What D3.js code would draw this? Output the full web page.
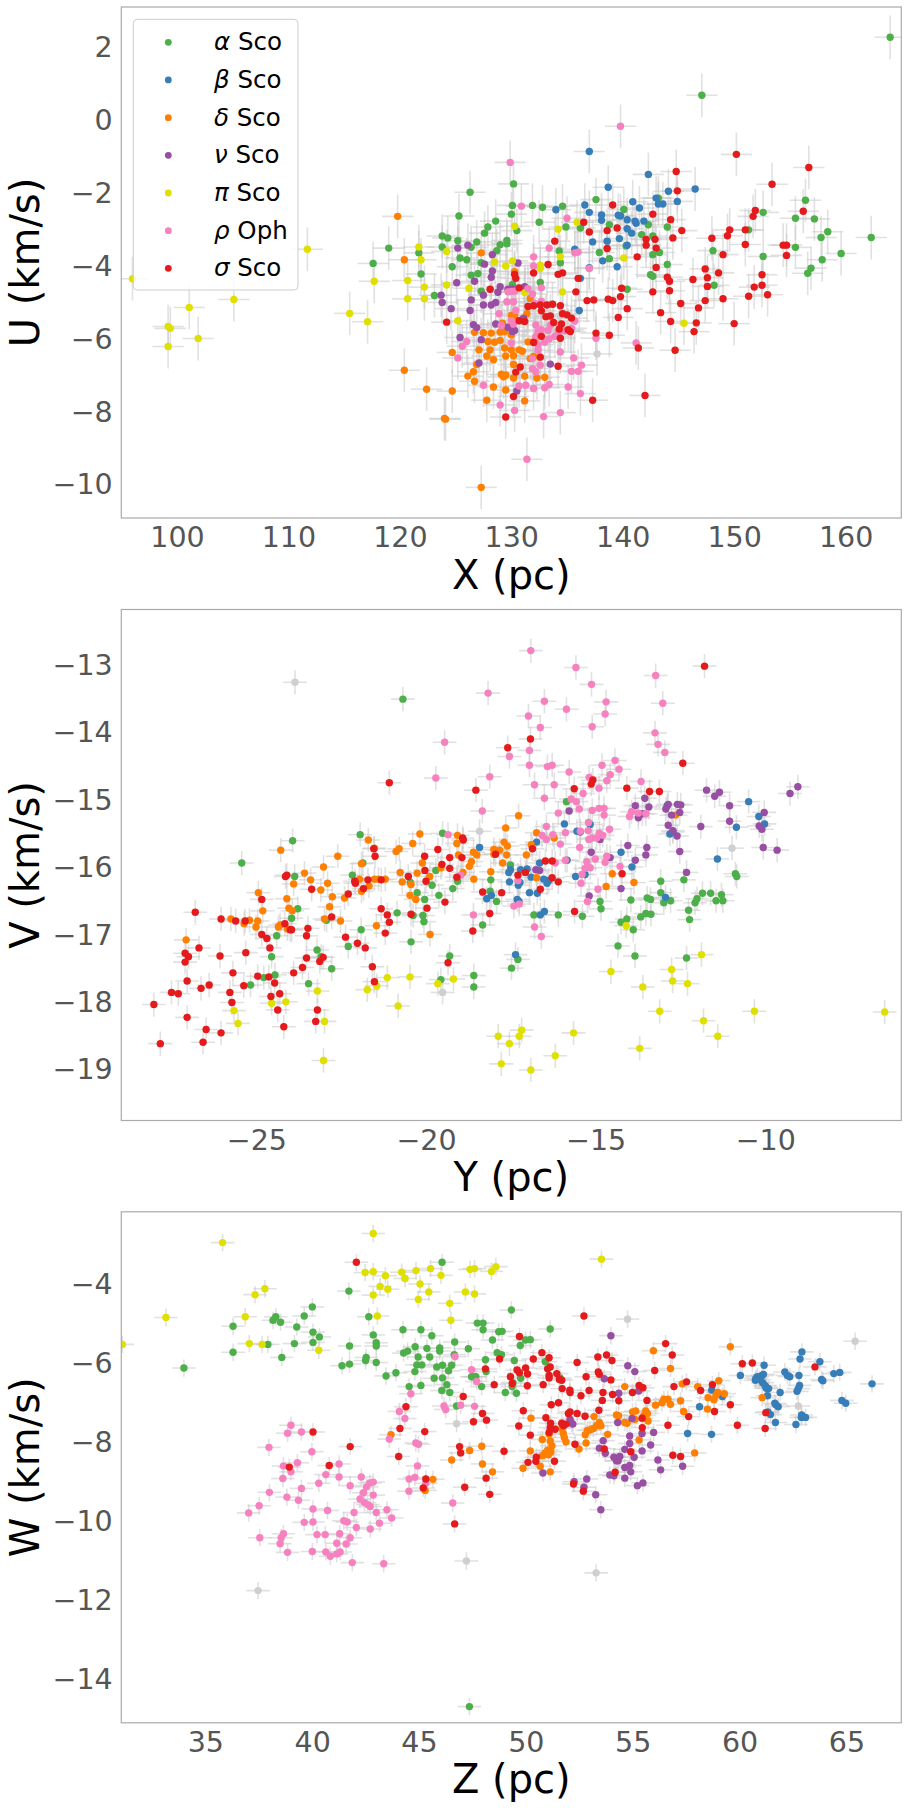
<!DOCTYPE html>
<html>
<head>
<meta charset="utf-8">
<script src="https://cdn.jsdelivr.net/npm/d3@7"></script>
<style>
  body { margin: 0; background: #fff; }
  svg { display: block; }
</style>
</head>
<body>
<svg id="chart" width="908" height="1808"></svg>
<script>
// Groups, in legend order
const groupGreek = ["α", "β", "δ", "ν", "π", "ρ", "σ"];
const groupName = ["Sco", "Sco", "Sco", "Sco", "Sco", "Oph", "Sco"];

// ---- Panel 1: X (pc) vs U (km/s) ----
const xuAlpha = [[164.0,2.24],[147.1,0.65],[162.3,-3.25],[159.6,-3.69],[158.4,-3.09],[157.8,-3.25],[157.2,-2.74],[156.4,-2.23],[155.5,-2.72],[155.5,-3.52],[157.9,-3.86],[156.9,-4.09],[156.6,-4.23],[152.6,-2.56],[151.3,-3.04],[152.6,-3.77],[148.1,-3.61],[148.2,-4.56],[119.0,-3.54],[117.6,-3.96],[121.7,-3.67],
  [126.3,-2.01],[130.2,-1.78],[130.1,-2.37],[130.0,-2.61],[131.9,-2.37],[132.8,-2.42],[134.6,-2.39],[132.5,-2.83],[134.9,-2.96],[137.6,-2.21],[140.1,-2.48],[138.8,-2.9],[136.2,-2.99],[125.3,-2.66],[128.6,-2.8],[127.9,-2.96],[127.6,-3.13],[130.5,-3.06],[123.8,-3.21],[124.3,-3.26],[125.2,-3.34],[123.8,-3.51],[126.9,-3.37],[126.4,-3.52],[129.0,-3.45],[129.6,-3.42],[129.6,-3.33],[128.7,-3.61],[125.4,-3.81],[126.0,-3.86],[124.7,-4.05],[127.3,-3.94],[126.4,-4.28],[127.0,-4.24],[121.9,-4.25],[123.1,-4.84],[127.3,-4.72],[130.1,-4.54],[132.6,-4.48],[134.3,-3.62],[134.4,-3.94],[137.9,-3.66],[138.8,-3.83],[140.3,-3.48],[141.7,-3.17],[142.3,-2.9],[142.7,-3.21],[142.7,-3.72],[143.3,-3.66],[143.2,-2.17],[144.0,-2.96],[144.0,-3.99],[142.5,-4.27],[142.7,-4.31],[140.4,-4.67]];
const xuBeta = [[137.0,-0.89],[142.3,-1.52],[146.5,-1.92],[138.7,-1.87],[134.0,-2.49],[136.6,-2.36],[137.0,-2.56],[138.1,-2.63],[138.1,-2.78],[139.6,-2.64],[139.8,-2.66],[140.4,-2.76],[140.9,-2.27],[141.5,-2.44],[141.1,-2.8],[141.2,-2.86],[141.9,-2.8],[143.0,-2.17],[143.2,-2.33],[143.6,-2.33],[144.1,-1.98],[144.9,-2.26],[140.4,-3.01],[140.8,-3.13],[137.3,-3.37],[138.6,-3.35],[139.7,-3.28],[140.4,-3.46],[138.2,-3.89],[139.5,-4.05],[137.0,-4.08],[135.7,-3.57],[136.2,-4.37],[136.1,-5.25]];
const xuDelta = [[119.8,-2.67],[120.4,-3.86],[120.4,-6.89],[122.4,-7.41],[124.7,-7.46],[124.0,-8.21],[124.1,-8.23],[127.3,-10.1],
  [127.3,-3.67],[130.3,-4.19],[131.7,-4.92],[130.0,-5.38],[130.3,-5.4],[131.4,-5.34],[126.7,-5.85],[127.5,-5.86],[128.2,-5.87],[129.0,-5.84],[129.4,-5.83],[130.0,-5.92],[127.9,-6.1],[128.5,-6.12],[129.0,-6.07],[127.1,-6.33],[128.1,-6.33],[129.4,-6.28],[130.0,-6.33],[130.7,-6.33],[124.7,-6.4],[127.8,-6.5],[128.4,-6.6],[129.5,-6.5],[130.2,-6.49],[131.0,-6.37],[131.5,-6.11],[132.1,-6.08],[131.7,-6.57],[132.0,-6.51],[130.2,-6.73],[126.9,-6.73],[126.6,-6.93],[126.1,-7.05],[126.7,-7.19],[129.1,-7.0],[129.3,-7.07],[129.5,-7.02],[130.2,-7.1],[131.2,-7.05],[132.3,-7.1],[133.0,-7.08],[128.4,-7.35],[129.5,-7.43],[127.8,-7.71],[131.2,-7.73],[129.2,-5.6]];
const xuNu = [[125.2,-3.54],[126.1,-3.46],[128.3,-3.72],[127.6,-3.98],[128.3,-4.17],[128.2,-4.34],[130.6,-3.95],[125.1,-4.49],[126.7,-4.45],[123.7,-4.83],[123.8,-5.03],[124.6,-5.2],[126.4,-4.96],[126.3,-5.25],[127.5,-4.83],[127.5,-5.1],[128.2,-5.1],[128.6,-5.03],[128.8,-4.75],[129.0,-4.6],[129.7,-4.67],[130.1,-4.66],[131.2,-4.6],[131.2,-4.69],[126.6,-5.64],[126.9,-5.72],[128.6,-5.62],[129.7,-5.71],[130.1,-5.83],[130.3,-5.8],[131.1,-5.46],[125.4,-5.99],[127.3,-6.05],[127.1,-6.69],[133.5,-6.72],[130.5,-7.46]];
const xuPi = [[96.0,-4.38],[99.2,-5.69],[99.4,-5.74],[99.2,-6.24],[101.1,-5.17],[101.9,-6.02],[105.1,-4.95],[111.7,-3.57],[115.5,-5.33],[117.1,-5.56],[117.7,-4.45],[145.5,-5.6],[121.7,-3.51],[121.9,-3.86],[120.7,-4.43],[120.7,-4.93],[122.2,-4.61],[122.2,-4.93],[124.2,-3.63],[124.2,-4.55],
  [125.2,-5.53],[126.2,-4.64],[128.5,-3.92],[129.5,-4.03],[130.1,-3.89],[130.3,-2.94],[132.6,-4.01],[132.6,-4.1],[131.2,-4.76],[134.2,-3.02],[134.4,-3.78],[134.6,-4.74],[135.9,-2.83],[140.1,-3.81]];
const xuRho = [[139.8,-0.2],[129.9,-1.19],[131.4,-9.33],
  [130.9,-2.39],[135.0,-2.72],[133.4,-3.54],[135.7,-3.67],[136.0,-3.65],[132.0,-3.78],[132.0,-4.03],[137.0,-4.1],[129.7,-4.74],[130.0,-4.73],[130.3,-4.72],[129.6,-5.01],[130.2,-5.01],[130.4,-5.25],[131.5,-4.65],[132.7,-4.63],[131.9,-4.8],[132.7,-5.0],[132.1,-5.05],[128.9,-5.34],[129.1,-5.66],[130.2,-5.62],[130.0,-5.53],[132.2,-5.65],[132.4,-5.83],[132.7,-5.78],[133.3,-5.8],[133.5,-5.66],[133.0,-6.12],[133.4,-6.03],[133.9,-5.96],[132.2,-5.96],[132.4,-6.19],[134.2,-5.87],[134.8,-5.81],[135.4,-5.74],[135.7,-5.54],[126.0,-6.1],[125.6,-6.23],[125.2,-6.55],[130.0,-6.14],[134.4,-6.39],[132.4,-6.34],[131.9,-6.57],[135.6,-6.55],[136.3,-6.75],[135.4,-6.92],[136.0,-6.92],[131.9,-6.85],[132.2,-6.93],[132.6,-6.75],[137.6,-6.01],[141.2,-6.14],[130.7,-7.32],[131.3,-7.3],[132.0,-7.39],[133.0,-7.37],[133.4,-7.28],[127.5,-7.3],[135.1,-7.35],[136.2,-7.53],[129.0,-7.84],[130.3,-7.99],[132.9,-8.16],[134.4,-8.05]];
const xuSigma = [[150.2,-0.97],[156.7,-1.33],[153.4,-1.79],[144.8,-1.44],[151.9,-2.51],[151.7,-2.67],[156.2,-2.53],[148.0,-3.27],[149.6,-3.04],[149.4,-3.2],[151.0,-3.04],[151.0,-3.44],[149.0,-3.72],[154.4,-3.46],[154.7,-3.46],[154.7,-3.74],[147.4,-4.11],[147.6,-4.35],[148.6,-4.22],[146.3,-4.4],[147.6,-4.59],[152.5,-4.27],[151.8,-4.61],[152.5,-4.56],[153.0,-4.82],[151.3,-4.86],[149.0,-4.93],[147.4,-4.98],[146.8,-5.18],[146.6,-5.59],[146.4,-5.83],[150.0,-5.61],[144.7,-6.34],[142.0,-7.58],
  [144.9,-1.97],[139.1,-2.36],[137.0,-3.1],[136.5,-2.83],[138.6,-3.06],[139.5,-2.99],[142.7,-2.61],[144.3,-2.76],[145.3,-3.06],[144.5,-3.26],[142.1,-3.3],[142.9,-3.3],[142.1,-3.46],[143.0,-3.54],[138.6,-3.55],[141.3,-3.78],[143.0,-4.07],[144.0,-4.34],[144.2,-4.45],[144.2,-4.71],[142.7,-4.74],[133.9,-3.35],[134.2,-4.26],[134.6,-4.22],[136.0,-4.37],[133.3,-3.99],[132.0,-4.22],[130.3,-4.26],[130.4,-4.37],[130.7,-4.63],[128.1,-4.67],[135.8,-4.74],[136.8,-4.98],[137.4,-4.96],[138.7,-4.94],[139.1,-4.98],[139.8,-4.87],[139.9,-4.64],[140.4,-5.2],[139.6,-5.44],[143.4,-5.31],[144.3,-5.55],[145.2,-5.06],[131.5,-5.14],[132.0,-5.12],[132.6,-5.1],[132.7,-5.26],[133.2,-5.1],[133.7,-5.08],[133.5,-5.4],[133.1,-5.42],[134.4,-5.12],[134.6,-5.34],[135.0,-5.37],[135.4,-5.46],[134.5,-5.62],[135.1,-5.78],[133.8,-5.58],[132.0,-6.13],[132.7,-5.96],[134.4,-6.01],[134.3,-5.76],[135.3,-5.83],[130.7,-5.53],[131.2,-5.55],[124.2,-5.57],[132.6,-6.53],[130.8,-6.8],[130.4,-6.94],[134.2,-6.78],[130.2,-7.61],[129.5,-8.17],[137.3,-7.71],[137.6,-5.87],[138.8,-5.93],[141.4,-6.28]];
const xuOther = [[137.7,-6.44]];

// ---- Panel 2: Y (pc) vs V (km/s) ----
const yvAlpha = [[-20.68,-13.52],[-23.93,-15.62],[-25.43,-15.95],[-21.94,-15.53],[-21.86,-15.95],[-22.17,-16.13],[-23.87,-16.15],[-23.78,-16.63],[-23.96,-16.77],[-24.4,-17.03],[-24.55,-17.34],[-24.78,-17.65],[-24.45,-17.61],[-25.17,-17.76],[-23.46,-17.74],[-23.21,-17.24],[-23.09,-17.34],[-22.78,-17.52],[-22.93,-16.8],[-21.91,-16.94],[-22.29,-17.19],[-20.85,-16.69],[-20.44,-17.12],[-20.38,-16.73],[-20.09,-16.73],[-20.06,-16.82],[-20.04,-16.49],[-20.26,-16.39],[-19.82,-16.28],[-19.71,-16.06],[-19.62,-16.43],[-19.21,-16.33],[-19.07,-16.22],[-19.51,-15.51],[-19.3,-17.33],[-19.56,-17.68],[-18.59,-17.62],[-18.59,-17.79],[-18.33,-16.87],[-18.09,-16.2],[-18.11,-16.37],[-17.92,-16.52],[-20.46,-16.24],
  [-15.86,-15.04],[-17.51,-15.98],[-16.82,-16.72],[-16.1,-16.72],[-15.39,-16.74],[-14.87,-16.52],[-14.84,-16.63],[-13.96,-16.5],[-14.25,-16.83],[-14.08,-16.78],[-13.89,-16.94],[-13.67,-16.75],[-13.52,-16.7],[-13.37,-16.71],[-13.48,-16.47],[-13.38,-16.49],[-13.08,-16.22],[-13.08,-16.39],[-12.99,-16.54],[-12.79,-16.51],[-12.4,-16.2],[-12.26,-16.65],[-12.23,-16.79],[-12.07,-16.54],[-12.01,-16.48],[-11.85,-16.4],[-11.61,-16.4],[-11.45,-16.51],[-11.25,-16.51],[-11.29,-16.42],[-10.88,-16.11],[-10.84,-16.15],[-14.34,-17.18],[-13.84,-17.33],[-12.32,-17.36],[-17.48,-17.51],[-17.29,-17.38]];
const yvBeta = [[-18.42,-15.72],[-18.21,-16.48],[-18.07,-16.43],[-15.92,-15.37],[-15.55,-15.48],[-15.45,-15.49],[-15.16,-15.38],[-16.74,-15.64],[-16.65,-15.95],[-17.51,-16.05],[-17.56,-16.09],[-17.21,-16.05],[-17.02,-16.04],[-17.54,-16.23],[-17.28,-16.28],[-17.23,-16.24],[-16.9,-16.16],[-16.53,-16.19],[-16.43,-16.25],[-16.38,-16.21],[-16.95,-16.39],[-16.72,-16.4],[-17.31,-16.49],[-17.26,-16.52],[-16.63,-16.72],[-16.51,-16.67],[-15.59,-16.15],[-15.31,-16.12],[-15.84,-15.91],[-14.25,-15.79],[-13.93,-16.01],[-10.49,-15.04],[-10.19,-15.26],[-10.02,-15.37],[-10.85,-15.42],[-11.41,-15.89],[-12.89,-15.1],[-12.81,-15.52],[-12.72,-15.49],[-12.94,-16.46],[-17.36,-17.31]];
const yvDelta = [[-24.28,-15.76],[-22.6,-15.85],[-21.7,-15.61],[-21.52,-15.73],[-20.88,-15.78],[-20.79,-15.74],[-20.39,-15.66],[-20.18,-15.52],[-19.07,-15.54],[-19.09,-15.66],[-19.04,-15.83],[-18.6,-15.79],[-18.5,-15.83],[-18.66,-15.93],[-18.72,-16.0],[-18.91,-16.09],[-18.0,-15.75],[-18.0,-15.82],[-18.09,-16.08],[-18.59,-16.19],[-19.56,-16.02],[-19.89,-16.15],[-20.11,-15.95],[-20.26,-16.1],[-20.76,-16.09],[-20.7,-16.23],[-20.44,-16.27],[-20.47,-16.43],[-20.3,-16.49],[-19.88,-17.01],[-21.9,-15.96],[-21.9,-16.37],[-21.96,-16.19],[-21.68,-16.29],[-21.52,-16.19],[-21.4,-16.19],[-21.2,-16.19],[-23.02,-16.01],[-23.58,-16.1],[-23.4,-16.2],[-23.9,-16.26],[-22.9,-16.25],[-23.1,-16.35],[-22.76,-16.45],[-22.4,-16.47],[-24.1,-16.48],[-24.04,-16.62],[-23.94,-16.66],[-22.84,-16.6],[-22.99,-16.78],[-22.52,-16.81],[-24.94,-16.39],[-24.81,-16.66],[-24.96,-16.81],[-25.01,-16.9],[-25.75,-16.78],[-25.2,-16.8],[-25.36,-16.85],[-24.35,-16.9],[-24.3,-16.87],[-24.08,-16.93],[-21.46,-16.88],[-27.07,-17.09],
  [-17.27,-15.25],[-17.65,-15.43],[-16.74,-15.5],[-16.22,-15.58],[-16.9,-15.68],[-17.04,-15.83],[-17.6,-15.7],[-17.7,-15.64],[-17.62,-15.83],[-17.83,-15.76],[-17.74,-15.95],[-16.74,-16.17],[-14.51,-16.11],[-14.69,-16.3],[-13.87,-16.24],[-12.64,-15.24]];
const yvNu = [[-11.73,-14.87],[-11.49,-14.96],[-11.35,-14.9],[-9.27,-14.92],[-9.04,-14.82],[-11.05,-15.1],[-10.03,-15.2],[-11.05,-15.33],[-11.9,-15.41],[-10.18,-15.4],[-10.1,-15.45],[-10.06,-15.72],[-9.65,-15.76],[-12.52,-15.78],[-12.59,-15.08],[-12.49,-15.09],[-12.52,-15.2],[-12.76,-15.24],[-12.86,-15.08],[-12.93,-15.15],[-12.86,-15.39],[-12.72,-15.47],[-12.6,-15.55],[-13.55,-14.99],[-13.43,-15.12],[-13.83,-15.1],[-13.74,-15.28],[-13.62,-15.22],[-13.49,-15.72],[-13.52,-15.83],[-14.05,-15.69],[-13.83,-15.91],[-12.32,-16.09],[-15.78,-15.18],[-15.13,-15.79],[-14.57,-15.87],[-14.25,-16.33],[-15.19,-16.44],[-16.76,-16.05],[-16.65,-16.06],[-14.87,-15.6]];
const yvPi = [[-17.87,-18.52],[-17.78,-18.93],[-17.54,-18.63],[-17.25,-18.52],[-17.18,-18.43],[-16.91,-19.02],[-16.19,-18.81],[-15.65,-18.47],[-13.7,-18.7],[-11.4,-18.52],[-6.48,-18.16],
  [-25.66,-18.14],[-25.54,-18.33],[-24.55,-18.03],[-24.13,-18.01],[-23.2,-17.85],[-22.99,-18.3],[-23.02,-18.88],[-21.73,-17.83],[-21.45,-17.77],[-21.14,-17.65],[-20.47,-17.64],[-20.82,-18.07],[-19.65,-17.74],[-19.19,-17.67],
  [-14.1,-16.88],[-14.55,-17.56],[-13.61,-17.79],[-12.76,-17.53],[-12.73,-17.7],[-12.29,-17.74],[-11.88,-17.31],[-13.11,-18.15],[-11.82,-18.29],[-10.32,-18.15]];
const yvRho = [[-16.91,-12.8],[-18.17,-13.43],[-19.45,-14.16],[-15.58,-13.05],[-15.12,-13.3],[-13.23,-13.17],[-19.71,-14.69],[-18.12,-14.67],[-18.34,-15.18],[-19.35,-15.53],[-18.97,-16.13],[-18.6,-16.72],
  [-16.51,-13.55],[-14.69,-13.56],[-13.02,-13.58],[-15.86,-13.67],[-14.72,-13.74],[-16.98,-13.77],[-15.1,-13.93],[-16.63,-13.94],[-13.25,-14.02],[-13.16,-14.19],[-12.96,-14.31],[-16.95,-14.28],[-17.54,-14.37],[-16.95,-14.5],[-16.42,-14.52],[-16.28,-14.5],[-15.78,-14.6],[-14.81,-14.5],[-14.43,-14.43],[-14.31,-14.56],[-14.57,-14.64],[-14.67,-14.73],[-15.19,-14.68],[-14.9,-14.84],[-13.66,-14.74],[-16.8,-14.79],[-16.22,-14.79],[-16.51,-14.99],[-15.37,-14.92],[-15.72,-15.0],[-15.57,-15.04],[-16.1,-15.21],[-15.48,-15.15],[-15.1,-15.17],[-14.9,-15.14],[-14.75,-15.14],[-14.75,-15.24],[-15.21,-15.35],[-15.22,-15.47],[-15.45,-15.48],[-14.59,-15.45],[-15.2,-15.6],[-15.1,-15.58],[-14.97,-15.58],[-14.89,-15.51],[-14.79,-15.54],[-15.47,-15.72],[-15.89,-15.5],[-16.04,-15.67],[-16.45,-15.41],[-16.58,-15.54],[-16.45,-15.6],[-16.26,-15.53],[-15.89,-15.91],[-16.19,-15.95],[-15.01,-15.89],[-14.72,-15.94],[-14.67,-15.85],[-15.26,-15.93],[-15.16,-16.02],[-15.31,-16.03],[-15.4,-16.12],[-15.43,-16.25],[-14.28,-16.0],[-14.93,-16.34],[-15.24,-16.52],[-16.8,-16.9],[-16.6,-17.04],[-17.41,-16.59],[-17.25,-16.56],[-17.29,-16.21],[-14.0,-15.26],[-13.94,-15.19],[-13.74,-15.21],[-13.52,-15.22]];
const yvSigma = [[-28.02,-18.05],[-27.83,-18.63],[-11.79,-13.03],
  [-21.08,-14.76],[-18.53,-14.87],[-18.92,-15.58],[-18.9,-15.61],[-19.65,-15.75],[-21.54,-15.74],[-21.5,-15.85],[-20.04,-15.85],[-19.3,-15.87],[-18.94,-15.87],[-19.53,-15.97],[-20.03,-16.06],[-19.3,-16.03],[-19.09,-16.16],[-20.52,-16.15],[-20.0,-16.22],[-24.14,-16.15],[-24.1,-16.13],[-22.08,-16.25],[-22.1,-16.22],[-21.71,-16.2],[-21.84,-16.33],[-21.32,-16.2],[-22.29,-16.41],[-23.37,-16.34],[-24.84,-16.49],[-26.8,-16.68],[-26.04,-16.78],[-25.61,-16.81],[-25.33,-16.81],[-24.16,-16.85],[-24.0,-16.94],[-23.96,-16.94],[-23.48,-16.92],[-23.52,-17.03],[-24.84,-17.01],[-24.69,-17.07],[-24.6,-17.21],[-26.69,-17.21],[-27.1,-17.29],[-27.0,-17.34],[-27.1,-17.42],[-26.07,-17.33],[-25.31,-17.28],[-22.78,-16.75],[-22.37,-17.05],[-22.02,-17.14],[-21.79,-17.21],[-21.32,-16.63],[-21.14,-16.72],[-21.08,-16.83],[-21.2,-16.99],[-20.44,-16.71],[-19.97,-16.62],[-19.44,-16.53],[-18.33,-16.38],[-18.12,-16.7],[-18.62,-16.96],[-23.52,-17.36],[-23.03,-17.35],[-23.13,-17.41],[-23.64,-17.5],[-23.9,-17.58],[-25.69,-17.58],[-24.96,-17.63],[-24.63,-17.64],[-24.46,-17.73],[-25.37,-17.77],[-27.04,-17.7],[-26.63,-17.81],[-26.39,-17.76],[-27.5,-17.87],[-27.3,-17.89],[-25.78,-17.87],[-25.72,-18.02],[-24.57,-17.93],[-24.31,-17.89],[-24.37,-18.13],[-23.2,-18.13],[-23.25,-18.3],[-24.19,-18.38],[-27.04,-18.24],[-26.48,-18.42],[-26.04,-18.47],[-26.57,-18.61],[-21.58,-17.49],[-21.52,-17.71],[-19.35,-17.43],[-17.95,-15.82],
  [-16.92,-14.11],[-17.59,-14.24],[-12.43,-14.47],[-15.63,-14.85],[-15.13,-14.78],[-15.08,-14.72],[-14.08,-14.84],[-13.41,-14.89],[-13.12,-14.89],[-16.86,-15.74],[-17.07,-16.09],[-17.29,-16.13],[-16.48,-15.92],[-16.28,-15.92],[-16.28,-16.17],[-16.1,-16.23],[-16.63,-16.34],[-17.77,-16.39],[-15.62,-16.67],[-14.22,-16.11]];
const yvOther = [[-23.86,-13.27],[-18.42,-15.48],[-19.51,-17.87],[-10.98,-15.73]];

// ---- Panel 3: Z (pc) vs W (km/s) ----
const zwAlpha = [[34.0,-6.14],[36.3,-5.08],[36.3,-5.74],[37.93,-5.54],[38.17,-4.93],[38.3,-4.84],[38.52,-4.98],[38.58,-5.87],[39.17,-5.52],[39.28,-5.1],[39.63,-4.82],[40.01,-4.59],[40.04,-5.23],[40.34,-5.35],[40.04,-5.49],[41.72,-4.19],[41.75,-5.58],[41.4,-6.08],[41.75,-6.04],[42.53,-5.87],[42.5,-5.95],[42.65,-4.84],[42.86,-5.3],[43.0,-5.5],[43.0,-5.58],[43.0,-6.0],[46.08,-3.46],[47.36,-14.72],
  [49.32,-4.67],[51.14,-5.15],[47.73,-5.0],[48.0,-5.0],[48.0,-5.17],[44.25,-5.17],[45.09,-5.17],[45.6,-5.32],[46.67,-5.48],[48.44,-5.43],[48.73,-5.22],[48.89,-5.21],[49.98,-5.43],[50.21,-5.42],[49.74,-5.57],[44.82,-5.6],[45.37,-5.64],[45.97,-5.63],[45.97,-5.71],[46.65,-5.8],[47.31,-5.65],[44.28,-5.76],[44.47,-5.71],[44.96,-5.86],[45.5,-5.86],[44.9,-6.06],[45.13,-6.06],[44.81,-6.23],[45.83,-6.11],[46.1,-6.07],[46.53,-6.07],[46.38,-6.21],[46.1,-6.39],[45.71,-6.4],[46.3,-6.56],[46.07,-6.71],[46.44,-6.76],[43.92,-6.26],[43.46,-6.34],[44.54,-6.61],[45.09,-6.58],[48.11,-5.93],[48.66,-5.75],[48.86,-5.8],[49.46,-5.95],[50.91,-5.98],[47.46,-6.36],[47.56,-6.36],[47.66,-6.36],[48.14,-6.23],[47.93,-6.61],[49.04,-6.76],[49.56,-6.78],[49.36,-6.61],[49.4,-6.51],[49.76,-6.4],[46.76,-7.1],[51.6,-6.39]];
const zwBeta = [[62.92,-5.73],[62.83,-5.91],[63.76,-5.98],[61.15,-6.07],[60.04,-6.33],[60.77,-6.4],[60.84,-6.36],[61.05,-6.33],[61.12,-6.3],[60.74,-6.45],[60.92,-6.43],[61.08,-6.51],[61.19,-6.58],[61.26,-6.65],[61.36,-6.66],[61.23,-6.61],[62.12,-6.24],[62.24,-6.33],[62.35,-6.36],[62.78,-6.33],[62.81,-6.58],[62.75,-6.66],[62.69,-6.73],[63.84,-6.43],[63.9,-6.46],[64.41,-6.28],[64.69,-6.25],[66.2,-6.54],[61.9,-6.76],[61.31,-6.84],[61.65,-7.03],[61.81,-7.12],[61.7,-7.07],[64.79,-6.96],[64.97,-7.03],[61.33,-7.25],[61.45,-7.32],[62.91,-7.33],[62.89,-7.39],[63.09,-7.39],[62.64,-7.57],[61.68,-7.52],[59.2,-6.86],[58.7,-6.7],[58.13,-7.12],[57.57,-7.8],[58.69,-7.82]];
const zwDelta = [[55.97,-5.7],[56.77,-6.15],[54.63,-6.61],[56.46,-6.93],[56.65,-6.93],[56.77,-7.06],[56.07,-7.08],[56.37,-7.02],[55.61,-7.23],[55.69,-7.29],[55.14,-7.23],[54.99,-7.25],[55.11,-7.44],[55.53,-7.34],[55.72,-7.48],[55.3,-7.96],[54.74,-7.54],[54.62,-7.52],[54.24,-7.33],[54.34,-7.35],[53.19,-7.37],[53.44,-7.52],[53.51,-7.6],[53.31,-7.6],[53.16,-7.67],[53.0,-7.71],[52.88,-7.72],[52.78,-7.83],[53.83,-7.82],[52.82,-8.04],[52.49,-8.19],[51.68,-7.67],[51.75,-7.8],[51.8,-7.9],[51.88,-8.01],[51.09,-7.82],[51.14,-7.99],[51.22,-8.11],[51.02,-8.22],[50.91,-8.29],[50.78,-8.36],[51.06,-8.34],[51.17,-8.26],[50.24,-7.41],[50.77,-7.95],[50.21,-8.24],[49.87,-8.68],[50.67,-8.63],[51.14,-8.77],[47.94,-8.12],[47.37,-8.23],[47.97,-8.57],[48.44,-8.77],[46.53,-8.47],[45.65,-8.96],[43.69,-7.83],[45.29,-9.24],
  [59.57,-5.6],[57.32,-6.54],[58.04,-6.61],[59.03,-6.46],[58.53,-6.89],[58.8,-6.94],[58.9,-6.83],[58.98,-6.76],[59.29,-6.79],[58.5,-7.18],[57.24,-6.97],[57.38,-7.24],[61.06,-6.89],[57.9,-8.29]];
const zwNu = [[53.98,-5.32],[54.77,-6.08],[55.1,-6.23],[53.67,-6.41],[55.28,-6.72],[54.35,-6.78],[54.97,-7.42],[52.2,-7.56],[54.3,-7.52],[54.86,-7.86],[55.44,-7.8],[55.98,-7.77],[53.62,-7.98],[54.86,-8.05],[54.63,-8.2],[55.07,-8.4],[55.44,-8.24],[55.84,-8.09],[53.44,-8.17],[53.72,-8.3],[54.12,-8.4],[54.24,-8.49],[54.4,-8.38],[54.32,-8.49],[54.63,-8.66],[54.86,-8.61],[54.91,-8.77],[53.93,-8.85],[54.12,-8.87],[54.63,-8.93],[55.22,-9.12],[55.48,-9.05],[56.18,-8.47],[56.31,-8.72],[52.85,-8.95],[52.26,-9.02],[52.72,-9.16],[53.27,-9.35],[53.51,-9.73],[50.8,-8.8],[52.07,-7.44],[52.15,-7.54],[57.34,-8.63]];
const zwPi = [[31.12,-5.54],[33.16,-4.86],[35.81,-2.96],[36.87,-4.84],[37.06,-5.52],[37.33,-4.28],[37.79,-4.13],[37.66,-5.54],[40.31,-5.69],[42.86,-2.73],[42.48,-3.72],[42.86,-3.7],[42.86,-4.29],[43.05,-4.82],[43.18,-4.07],[53.54,-3.38],[43.43,-3.8],[43.54,-4.14],[44.19,-3.71],[44.35,-3.87],[44.86,-3.67],[45.05,-4.01],[45.54,-3.62],[45.46,-4.21],[46.03,-3.79],[46.44,-4.5],[46.49,-4.93],[47.17,-4.21],[47.39,-3.64],[47.6,-3.62],[47.6,-4.26],[48.39,-3.69],[48.6,-3.57],[44.97,-4.4]];
const zwRho = [[39.01,-7.59],[38.85,-7.79],[39.5,-7.76],[37.98,-8.15],[39.99,-8.26],[38.66,-8.62],[39.01,-8.77],[41.26,-8.57],[39.31,-8.54],[40.64,-8.84],[38.63,-8.94],[41.26,-8.9],[40.31,-9.06],[39.5,-9.19],[41.78,-9.12],[42.3,-8.9],[42.55,-9.15],[42.4,-9.3],[42.86,-9.36],[42.7,-9.05],[42.86,-9.03],[38.0,-9.29],[38.82,-9.41],[39.36,-9.49],[37.52,-9.63],[37.03,-9.81],[40.04,-9.71],[40.04,-10.04],[40.72,-9.75],[41.48,-10.01],[41.64,-10.04],[42.24,-9.46],[42.45,-9.55],[42.6,-9.6],[42.72,-9.65],[41.96,-9.8],[43.0,-9.8],[39.63,-10.05],[40.23,-10.36],[40.61,-10.36],[41.29,-10.34],[42.07,-10.18],[42.72,-10.22],[41.78,-10.44],[38.66,-10.34],[38.55,-10.44],[37.55,-10.44],[38.5,-10.59],[38.85,-10.81],[40.01,-10.79],[40.64,-10.8],[40.85,-10.91],[41.15,-10.85],[41.31,-10.8],[41.15,-10.58],[41.59,-10.6],[41.88,-11.07],
  [46.69,-5.85],[47.46,-6.18],[47.7,-6.48],[44.62,-6.79],[46.17,-7.1],[46.25,-7.19],[46.95,-7.08],[47.6,-7.11],[44.08,-7.24],[44.34,-7.42],[43.61,-7.94],[44.85,-8.04],[44.98,-8.07],[44.93,-8.62],[44.54,-8.95],[44.81,-8.91],[44.53,-9.26],[45.32,-9.06],[46.58,-9.56],[43.5,-9.73],[43.72,-9.94],[43.15,-10.07],[43.35,-11.1]];
const zwSigma = [[42.07,-3.46],[40.04,-7.76],[38.93,-8.65],[40.8,-8.61],[41.78,-8.13],
  [52.72,-4.82],[49.7,-5.34],[56.54,-5.52],[56.85,-5.81],[48.77,-5.91],[48.11,-6.16],[50.35,-5.91],[50.75,-5.75],[51.09,-5.88],[51.02,-6.16],[51.14,-6.11],[51.09,-6.33],[51.09,-6.39],[51.45,-6.28],[51.57,-6.43],[51.68,-6.45],[49.99,-6.14],[49.28,-6.36],[49.59,-6.19],[49.7,-6.26],[49.36,-6.53],[50.08,-6.29],[50.07,-6.59],[50.81,-6.56],[48.52,-6.56],[52.4,-6.0],[52.82,-6.36],[53.37,-5.86],[53.39,-6.24],[53.44,-6.3],[53.78,-5.81],[54.03,-5.95],[53.98,-6.44],[52.96,-6.71],[52.58,-6.84],[52.07,-6.76],[52.06,-6.7],[51.7,-6.66],[53.61,-6.76],[54.06,-6.81],[53.58,-6.96],[54.35,-6.97],[54.99,-6.76],[55.3,-6.58],[55.48,-6.64],[55.67,-6.96],[56.03,-6.2],[56.93,-6.61],[47.07,-6.86],[47.97,-7.29],[48.16,-7.46],[47.55,-7.5],[44.39,-7.12],[44.11,-7.67],[45.27,-7.75],[46.9,-8.13],[46.95,-8.29],[44.05,-8.38],[45.32,-8.95],[45.2,-9.18],[47.14,-9.16],[48.31,-9.34],[48.14,-8.93],[46.67,-10.09],[48.98,-8.25],[49.88,-7.22],[49.67,-7.61],[50.21,-7.84],[51.19,-7.07],[51.53,-7.02],[50.94,-7.4],[51.16,-7.54],[51.14,-7.65],[51.09,-7.77],[51.37,-7.69],[51.68,-7.54],[51.76,-7.6],[51.99,-7.29],[52.07,-7.25],[51.88,-7.56],[52.4,-7.29],[52.77,-7.36],[53.42,-7.21],[52.3,-8.07],[51.34,-8.5],[50.49,-8.4],[50.47,-8.5],[50.1,-8.53],[52.23,-9.08],[52.69,-9.26],[53.67,-8.19],[54.18,-8.78],[54.91,-8.26],[55.44,-7.41],[55.45,-7.65],[56.65,-7.59],[56.88,-8.35],
  [63.53,-6.11],[60.13,-6.03],[60.6,-6.01],[57.52,-6.49],[58.73,-6.56],[58.18,-6.71],[59.57,-7.07],[58.83,-7.24],[57.62,-7.37],[61.23,-7.27],[59.9,-7.59],[61.2,-7.67],[57.24,-8.38]];
const zwOther = [[37.47,-11.78],[53.29,-11.33],[47.22,-11.03],[54.76,-4.9],[46.76,-7.55],[65.41,-5.46],[62.75,-7.1]];

// Typical error bar half widths per panel: [x, y]
const errXU = [1.4, 0.6];
const errYV = [0.35, 0.18];
const errZW = [0.55, 0.22];

// Tick values
const ticksX = [100, 110, 120, 130, 140, 150, 160];
const ticksU = [-10, -8, -6, -4, -2, 0, 2];
const ticksY = [-25, -20, -15, -10];
const ticksV = [-19, -18, -17, -16, -15, -14, -13];
const ticksZ = [35, 40, 45, 50, 55, 60, 65];
const ticksW = [-14, -12, -10, -8, -6, -4];

const colors = ["#4daf4a", "#377eb8", "#ff7f00", "#984ea3", "#e0e000", "#f781bf", "#e41a1c"];
const otherColor = "#cfcfcf";

const panels = [
  { top: 7, xDom: [95, 165], yDom: [-10.94, 3.07], xTicks: ticksX, yTicks: ticksU,
    xLabel: "X (pc)", yLabel: "U (km/s)", err: errXU, other: xuOther,
    sets: [xuAlpha, xuBeta, xuDelta, xuNu, xuPi, xuRho, xuSigma], legend: true },
  { top: 609.5, xDom: [-28.98, -5.99], yDom: [-19.77, -12.19], xTicks: ticksY, yTicks: ticksV,
    xLabel: "Y (pc)", yLabel: "V (km/s)", err: errYV, other: yvOther,
    sets: [yvAlpha, yvBeta, yvDelta, yvNu, yvPi, yvRho, yvSigma] },
  { top: 1211.8, xDom: [31.07, 67.57], yDom: [-15.13, -2.18], xTicks: ticksZ, yTicks: ticksW,
    xLabel: "Z (pc)", yLabel: "W (km/s)", err: errZW, other: zwOther,
    sets: [zwAlpha, zwBeta, zwDelta, zwNu, zwPi, zwRho, zwSigma] }
];

const svg = d3.select("#chart");
svg.append("rect").attr("width", 908).attr("height", 1808).attr("fill", "#fff");

const left = 121.3, right = 901.3, ph = 511;
const font = "DejaVu Sans";

panels.forEach(p => {
  const x = d3.scaleLinear().domain(p.xDom).range([left, right]);
  const y = d3.scaleLinear().domain(p.yDom).range([p.top + ph, p.top]);
  const g = svg.append("g");

  // Clip so cut points at the frame edge look right
  const clipId = "clip" + Math.round(p.top);
  svg.append("clipPath").attr("id", clipId)
    .append("rect").attr("x", left).attr("y", p.top).attr("width", right - left).attr("height", ph);
  const plot = g.append("g").attr("clip-path", `url(#${clipId})`);

  // Combine sets: unassigned stars first, then groups in legend order
  const layers = [{ pts: p.other, color: otherColor }]
    .concat(p.sets.map((s, i) => ({ pts: s, color: colors[i] })));

  // Error bars under everything
  const eb = plot.append("g").attr("stroke", "#c8c8c8").attr("stroke-opacity", 0.55).attr("stroke-width", 1.6);
  layers.forEach(l => {
    l.pts.forEach(d => {
      eb.append("line").attr("x1", x(d[0] - p.err[0])).attr("x2", x(d[0] + p.err[0]))
        .attr("y1", y(d[1])).attr("y2", y(d[1]));
      eb.append("line").attr("x1", x(d[0])).attr("x2", x(d[0]))
        .attr("y1", y(d[1] - p.err[1])).attr("y2", y(d[1] + p.err[1]));
    });
  });

  // Points
  layers.forEach(l => {
    plot.append("g").selectAll("circle")
      .data(l.pts)
      .enter()
      .append("circle")
      .attr("cx", d => x(d[0]))
      .attr("cy", d => y(d[1]))
      .attr("r", 3.7)
      .attr("fill", l.color);
  });

  // Frame
  g.append("rect").attr("x", left).attr("y", p.top).attr("width", right - left).attr("height", ph)
    .attr("fill", "none").attr("stroke", "#aaaaaa").attr("stroke-width", 1.2);

  // Axes (no tick marks)
  const xAxis = g.append("g").attr("transform", `translate(0,${p.top + ph})`)
    .call(d3.axisBottom(x).tickValues(p.xTicks).tickSize(0).tickPadding(9));
  const yAxis = g.append("g").attr("transform", `translate(${left},0)`)
    .call(d3.axisLeft(y).tickValues(p.yTicks).tickSize(0).tickPadding(8.6));
  [xAxis, yAxis].forEach(a => {
    a.select(".domain").remove();
    a.selectAll("text").style("font-family", font).style("font-size", "28.5px").attr("fill", "#555555");
  });
  yAxis.selectAll("text").attr("dy", "0.36em");

  // Axis labels
  g.append("text")
    .attr("x", (left + right) / 2)
    .attr("y", p.top + ph + 70.5)
    .attr("text-anchor", "middle")
    .style("font-family", font)
    .style("font-size", "40px")
    .attr("fill", "#000")
    .text(p.xLabel);
  g.append("text")
    .attr("transform", `translate(39,${p.top + ph / 2}) rotate(-90)`)
    .attr("text-anchor", "middle")
    .style("font-family", font)
    .style("font-size", "40px")
    .attr("fill", "#000")
    .text(p.yLabel);

  // Legend
  if (p.legend) {
    const lg = g.append("g");
    lg.append("rect").attr("x", 133.3).attr("y", 19.3).attr("width", 164.7).attr("height", 270.7)
      .attr("rx", 4).attr("fill", "#fff").attr("fill-opacity", 0.8)
      .attr("stroke", "#cccccc").attr("stroke-width", 1);
    groupGreek.forEach((gk, i) => {
      const cy = 42.3 + i * 37.67;
      lg.append("circle").attr("cx", 168.3).attr("cy", cy).attr("r", 3.4).attr("fill", colors[i]);
      const t = lg.append("text").attr("x", 214).attr("y", cy + 8)
        .style("font-family", font).style("font-size", "24.5px").attr("fill", "#000");
      t.append("tspan").style("font-style", "italic").text(gk);
      t.append("tspan").text(" " + groupName[i]);
    });
  }
});
</script>
</body>
</html>
